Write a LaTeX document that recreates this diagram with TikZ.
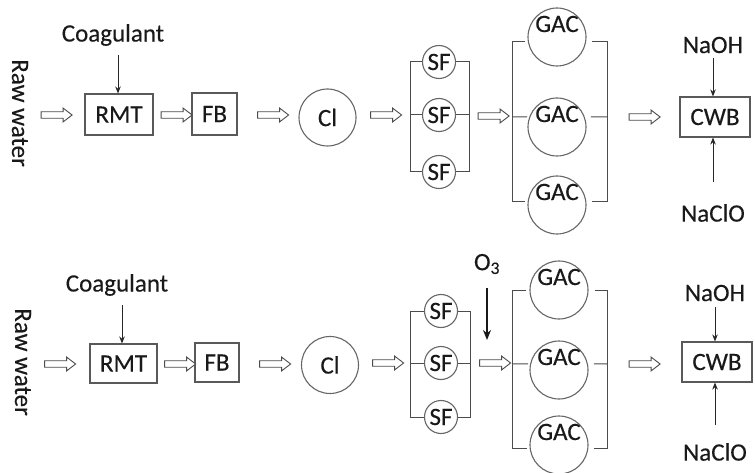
\documentclass[tikz,border=0pt]{standalone}
\usepackage{fontspec}
\setmainfont{Carlito}
\newfontfamily\labelfont{Carlito}[FakeBold=0.3]
\usetikzlibrary{shapes.arrows,arrows.meta,calc}

\begin{document}
\begin{tikzpicture}[x=1pt,y=-1pt,
  lbl/.style={font=\labelfont\fontsize{25}{28}\selectfont, text=black!90, inner sep=0pt},
  vtext/.style={lbl, rotate=-90},
  box/.style={lbl, draw=black!65, line width=1.1pt, rectangle},
  tank/.style={lbl, draw=black!60, line width=1.1pt, circle, inner sep=0pt},
  sfunit/.style={tank, minimum size=33pt},
  gacunit/.style={tank, minimum size=58pt},
  gactext/.style={lbl, yshift=13pt},
  pipe/.style={draw=black!70, line width=1pt},
  feed/.style={draw=black!85, line width=0.9pt, -{Stealth[length=7pt,width=5.5pt]}},
  ozone/.style={draw=black!90, line width=1.8pt, -{Stealth[length=10pt,width=8pt]}},
  harrow/.style={single arrow, draw=black!70, line width=0.9pt, fill=white,
    minimum height=31pt, minimum width=13pt, inner sep=2.8pt,
    single arrow head extend=3.7pt, single arrow tip angle=75},
]
\useasboundingbox (0,0) rectangle (755,473);

% ---------------- upper train ----------------
\node[vtext] (raw1) at (20,113) {Raw water};
\node[lbl] (coag1) at (113,35) {Coagulant};
\node[box, minimum width=68pt, minimum height=41pt] (rmt1) at (119,114.5) {RMT};
\node[box, minimum width=45pt, minimum height=42pt] (fb1) at (214.5,114) {FB};
\node[tank, minimum size=57pt] (cl1) at (327.5,117.5) {Cl};

\coordinate (c1) at (118,55);
\draw[feed] (c1) -- (c1 |- rmt1.north);

\node[harrow] (h11) at (54.5,115) {};
\node[harrow] (h12) at (174.5,115) {};
\node[harrow] (h13) at (271,115) {};
\node[harrow] (h14) at (384,115) {};
\node[harrow] (h15) at (491.5,116) {};
\node[harrow] (h16) at (642.5,117) {};

% sand filters
\node[sfunit] (sf1a) at (439,62) {SF};
\node[sfunit] (sf1b) at (439,115) {SF};
\node[sfunit] (sf1c) at (439,172) {SF};
\coordinate (sfL1) at (410,115);
\coordinate (sfR1) at (469,115);
\draw[pipe] (sf1a.west) -- (sf1a.west -| sfL1) -- (sf1c.west -| sfL1) -- (sf1c.west);
\draw[pipe] (sf1b.west) -- (sfL1);
\draw[pipe] (sf1a.east) -- (sf1a.east -| sfR1) -- (sf1c.east -| sfR1) -- (sf1c.east);
\draw[pipe] (sf1b.east) -- (sfR1);

% activated carbon filters
\node[gacunit, label={[gactext]center:GAC}] (gac1a) at (557,37) {};
\node[gacunit, label={[gactext]center:GAC}] (gac1b) at (557,127) {};
\node[gacunit, label={[gactext]center:GAC}] (gac1c) at (557,205) {};
\coordinate (gL1) at (512,117);
\coordinate (gR1) at (607,117);
\draw[pipe, shorten <=3pt, shorten >=3pt] (gac1a.188) -- (gac1a.188 -| gL1) -- (gac1c.174 -| gL1) -- (gac1c.174);
\draw[pipe, shorten >=2pt] (gL1) -- (gac1b.160);
\draw[pipe, shorten <=6pt, shorten >=6pt] (gac1a.-8) -- (gac1a.-8 -| gR1) -- (gac1c.6 -| gR1) -- (gac1c.6);
\draw[pipe, shorten <=6pt] (gac1b.20) -- (gR1);

% clear water basin
\node[box, minimum width=70pt, minimum height=40pt] (cwb1) at (715,117) {CWB};
\node[lbl] (naoh1) at (713,45) {NaOH};
\node[lbl] (nacl1) at (713,213) {NaClO};
\coordinate (n1) at (713,58);
\coordinate (n2) at (713,182);
\draw[feed] (n1) -- (n1 |- cwb1.north);
\draw[feed] (n2) -- (n2 |- cwb1.south);

% ---------------- lower train ----------------
\node[vtext] (raw2) at (23,362) {Raw water};
\node[lbl] (coag2) at (117,285) {Coagulant};
\node[box, minimum width=67pt, minimum height=39pt] (rmt2) at (123.5,363.5) {RMT};
\node[box, minimum width=44pt, minimum height=39pt] (fb2) at (217,362.5) {FB};
\node[tank, minimum size=57pt] (cl2) at (330,365) {Cl};

\coordinate (c2) at (122,305);
\draw[feed] (c2) -- (c2 |- rmt2.north);

\node[harrow] (h21) at (58,364) {};
\node[harrow] (h22) at (178,364) {};
\node[harrow] (h23) at (273,364) {};
\node[harrow] (h24) at (386,363) {};
\node[harrow] (h25) at (493,363) {};
\node[harrow] (h26) at (642.5,364) {};

% sand filters
\node[sfunit] (sf2a) at (441,311) {SF};
\node[sfunit] (sf2b) at (441,363) {SF};
\node[sfunit] (sf2c) at (441,417) {SF};
\coordinate (sfL2) at (410,363);
\coordinate (sfR2) at (470,363);
\draw[pipe] (sf2a.west) -- (sf2a.west -| sfL2) -- (sf2c.west -| sfL2) -- (sf2c.west);
\draw[pipe] (sf2b.west) -- (sfL2);
\draw[pipe] (sf2a.east) -- (sf2a.east -| sfR2) -- (sf2c.east -| sfR2) -- (sf2c.east);
\draw[pipe] (sf2b.east) -- (sfR2);

% ozone dosing
\node[lbl] (o3) at (487,264) {O\textsubscript{3}};
\coordinate (oz) at (487,288);
\draw[ozone] (oz) -- ++(0,52);

% activated carbon filters
\node[gacunit, label={[gactext]center:GAC}] (gac2a) at (559,290) {};
\node[gacunit, label={[gactext]center:GAC}] (gac2b) at (559,370) {};
\node[gacunit, label={[gactext]center:GAC}] (gac2c) at (559,445) {};
\coordinate (gL2) at (512,364);
\coordinate (gR2) at (607,364);
\draw[pipe, shorten <=3pt, shorten >=3pt] (gac2a.180) -- (gac2a.180 -| gL2) -- (gac2c.186 -| gL2) -- (gac2c.186);
\draw[pipe, shorten >=2pt] (gL2) -- (gac2b.168);
\draw[pipe, shorten <=6pt, shorten >=6pt] (gac2a.0) -- (gac2a.0 -| gR2) -- (gac2c.-6 -| gR2) -- (gac2c.-6);
\draw[pipe, shorten <=6pt] (gac2b.12) -- (gR2);

% clear water basin
\node[box, minimum width=70pt, minimum height=40pt] (cwb2) at (717,362) {CWB};
\node[lbl] (naoh2) at (715,293) {NaOH};
\node[lbl] (nacl2) at (715,452) {NaClO};
\coordinate (n3) at (715,307);
\coordinate (n4) at (715,425);
\draw[feed] (n3) -- (n3 |- cwb2.north);
\draw[feed] (n4) -- (n4 |- cwb2.south);
\end{tikzpicture}
\end{document}
